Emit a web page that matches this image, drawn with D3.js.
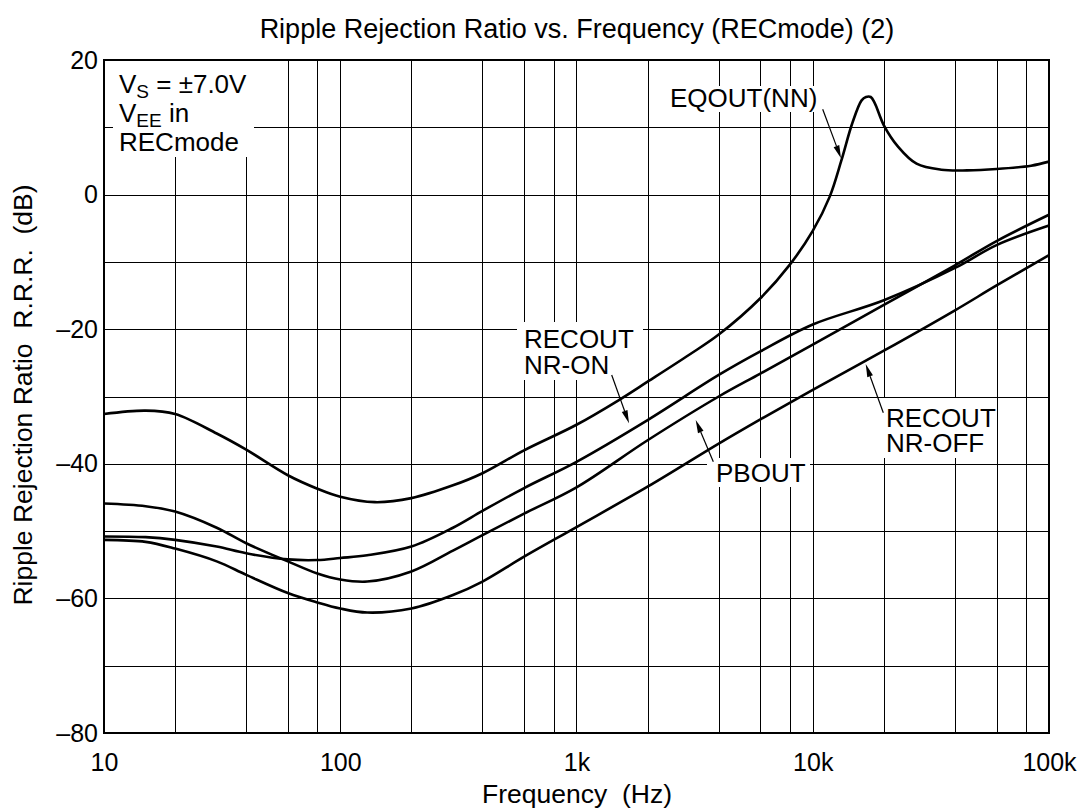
<!DOCTYPE html>
<html>
<head>
<meta charset="utf-8">
<script src="https://cdn.jsdelivr.net/npm/d3@7"></script>
<style>
  html, body { margin: 0; padding: 0; background: #fff; }
  svg { display: block; }
  text { font-family: "Liberation Sans", Arial, sans-serif; fill: #000; }
</style>
</head>
<body>
<svg id="chart" width="1085" height="811"></svg>
<script>
// ---------------- data ----------------
const xTickValues = [10, 100, 1000, 10000, 100000];
const xTickLabels = ["10", "100", "1k", "10k", "100k"];
const yTickValues = [20, 0, -20, -40, -60, -80];
const yTickLabels = ["20", "0", "\u201320", "\u201340", "\u201360", "\u201380"];

const eqFreq = [10, 15, 20, 30, 40, 60, 80, 100, 140, 200, 300, 400, 600, 1000, 1500, 2000, 3000, 4000, 6000, 8000, 10000, 11800, 13200, 14700, 16100, 16800, 17600, 18300, 20000, 23000, 27500, 35000, 45000, 60000, 84000, 100000];
const eqDb   = [-32.6, -32.1, -32.6, -35.5, -37.9, -41.7, -43.7, -44.9, -45.7, -45.1, -43.2, -41.4, -38.0, -34.2, -30.6, -27.8, -23.8, -20.8, -15.4, -10.4, -5.4, -0.3, 5.0, 10.6, 14.0, 14.5, 14.5, 13.6, 10.3, 7.1, 4.6, 3.7, 3.6, 3.8, 4.3, 4.9];

const freqs    = [10, 15, 20, 30, 40, 60, 80, 100, 130, 200, 300, 400, 600, 1000, 2000, 4000, 6000, 10000, 20000, 40000, 60000, 100000];
const pbDb     = [-45.9, -46.3, -47.1, -49.5, -51.8, -54.5, -56.3, -57.2, -57.5, -56.0, -52.9, -50.6, -47.4, -43.5, -36.5, -30.0, -26.6, -22.3, -16.4, -10.5, -6.9, -3.0];
const nrOnDb   = [-50.8, -50.9, -51.3, -52.3, -53.3, -54.2, -54.3, -54.0, -53.6, -52.3, -49.5, -47.0, -43.6, -39.7, -33.5, -26.8, -23.3, -19.3, -15.7, -10.9, -7.5, -4.6];
const nrOffDb  = [-51.3, -51.6, -52.6, -54.5, -56.5, -59.2, -60.6, -61.5, -62.1, -61.5, -59.5, -57.5, -53.8, -49.4, -43.4, -37.0, -33.4, -29.0, -23.2, -17.2, -13.5, -9.0];

// ---------------- layout ----------------
const svg = d3.select("#chart");
const L = 104, R = 1049, T = 60, B = 733;
const x = d3.scaleLog().domain([10, 100000]).range([L, R]);
const y = d3.scaleLinear().domain([-80, 20]).range([B, T]);

svg.append("rect").attr("width", 1085).attr("height", 811).attr("fill", "#fff");

// grid
const vGrid = [];
for (let d = 10; d < 100000; d *= 10) [1, 2, 4, 6, 8].forEach(k => vGrid.push(k * d));
const hGrid = d3.range(-70, 20, 10);
const grid = svg.append("g").attr("stroke", "#000").attr("stroke-width", 1).attr("shape-rendering", "crispEdges");
grid.selectAll("line.v").data(vGrid.filter(v => v > 10)).join("line")
  .attr("x1", d => Math.round(x(d)) + 0.5).attr("x2", d => Math.round(x(d)) + 0.5)
  .attr("y1", T).attr("y2", B);
grid.selectAll("line.h").data(hGrid).join("line")
  .attr("y1", d => Math.round(y(d)) + 0.5).attr("y2", d => Math.round(y(d)) + 0.5)
  .attr("x1", L).attr("x2", R);

// white boxes behind annotations
const boxes = [
  [113, 61, 141, 96],   // VS box
  [668, 86, 152, 26],   // EQOUT
  [517, 322, 126, 58],  // RECOUT NR-ON
  [707, 458, 103, 29],  // PBOUT
  [883, 398, 114, 60]   // RECOUT NR-OFF
];
svg.append("g").selectAll("rect").data(boxes).join("rect")
  .attr("x", d => d[0]).attr("y", d => d[1]).attr("width", d => d[2]).attr("height", d => d[3])
  .attr("fill", "#fff");

// curves
const line = d3.line().x(d => x(d[0])).y(d => y(d[1])).curve(d3.curveCatmullRom.alpha(0.5));
const series = [
  d3.zip(eqFreq, eqDb),
  d3.zip(freqs, pbDb),
  d3.zip(freqs, nrOnDb),
  d3.zip(freqs, nrOffDb)
];
svg.append("g").selectAll("path").data(series).join("path")
  .attr("d", line).attr("fill", "none").attr("stroke", "#000").attr("stroke-width", 2.6)
  .attr("stroke-linejoin", "round");

// frame
svg.append("rect").attr("x", L).attr("y", T).attr("width", R - L).attr("height", B - T)
  .attr("fill", "none").attr("stroke", "#000").attr("stroke-width", 2);

// axes
const xAxis = d3.axisBottom(x).tickValues(xTickValues)
  .tickFormat((d, i) => xTickLabels[i]).tickSize(0).tickPadding(20);
const gx = svg.append("g").attr("transform", `translate(0,${B})`).call(xAxis);
gx.select(".domain").remove();
gx.selectAll("text").attr("font-size", 25).attr("font-family", "Liberation Sans, Arial, sans-serif").attr("fill", "#000");

const yAxis = d3.axisLeft(y).tickValues(yTickValues)
  .tickFormat((d, i) => yTickLabels[i]).tickSize(0).tickPadding(6);
const gy = svg.append("g").attr("transform", `translate(${L},0)`).call(yAxis);
gy.select(".domain").remove();
gy.selectAll("text").attr("font-size", 25).attr("font-family", "Liberation Sans, Arial, sans-serif").attr("fill", "#000");

// titles
svg.append("text").attr("x", 577).attr("y", 38).attr("text-anchor", "middle")
  .attr("font-size", 27).text("Ripple Rejection Ratio vs. Frequency (RECmode) (2)");
svg.append("text").attr("x", 577).attr("y", 803).attr("text-anchor", "middle")
  .attr("font-size", 26.5).style("white-space", "pre").text("Frequency  (Hz)");
svg.append("text").attr("transform", "translate(32,395) rotate(-90)").attr("text-anchor", "middle")
  .attr("font-size", 26.5).style("white-space", "pre").text("Ripple Rejection Ratio  R.R.R.  (dB)");

// annotation texts
const fs = 26;
const t1 = svg.append("text").attr("x", 119).attr("y", 93).attr("font-size", fs);
t1.append("tspan").text("V");
t1.append("tspan").attr("font-size", 19).attr("dy", 5).text("S");
t1.append("tspan").attr("dy", -5).text(" = \u00B17.0V");
const t2 = svg.append("text").attr("x", 119).attr("y", 122).attr("font-size", fs);
t2.append("tspan").text("V");
t2.append("tspan").attr("font-size", 19).attr("dy", 5).text("EE");
t2.append("tspan").attr("dy", -5).text(" in");
svg.append("text").attr("x", 119).attr("y", 151).attr("font-size", fs).text("RECmode");

svg.append("text").attr("x", 670).attr("y", 107).attr("font-size", fs).text("EQOUT(NN)");
svg.append("text").attr("x", 524).attr("y", 348).attr("font-size", fs).text("RECOUT");
svg.append("text").attr("x", 524).attr("y", 374).attr("font-size", fs).text("NR-ON");
svg.append("text").attr("x", 716).attr("y", 482).attr("font-size", fs).text("PBOUT");
svg.append("text").attr("x", 886).attr("y", 427).attr("font-size", fs).text("RECOUT");
svg.append("text").attr("x", 886).attr("y", 452).attr("font-size", fs).text("NR-OFF");

// arrows
const arrows = [
  [822.7, 109.3, 841, 158.3],
  [611.7, 375, 629, 423.3],
  [713.3, 461.7, 695.7, 420],
  [883.3, 412.7, 865.7, 364]
];
const ag = svg.append("g");
arrows.forEach(([x1, y1, x2, y2]) => {
  const ang = Math.atan2(y2 - y1, x2 - x1);
  const len = 13, w = 3;
  const bx = x2 - len * Math.cos(ang), by = y2 - len * Math.sin(ang);
  ag.append("line").attr("x1", x1).attr("y1", y1).attr("x2", bx).attr("y2", by)
    .attr("stroke", "#000").attr("stroke-width", 1.2);
  const px = -Math.sin(ang) * w, py = Math.cos(ang) * w;
  ag.append("path").attr("d", `M${x2},${y2}L${bx + px},${by + py}L${bx - px},${by - py}Z`).attr("fill", "#000");
});
</script>
</body>
</html>
